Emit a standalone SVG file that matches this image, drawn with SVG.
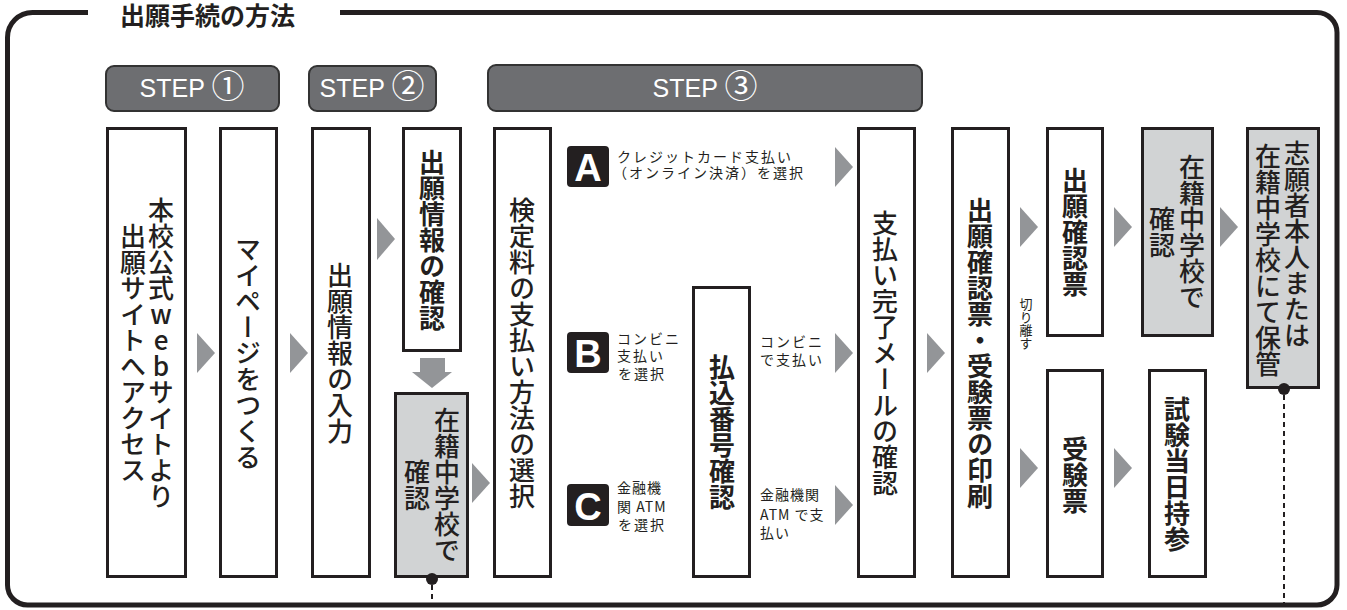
<svg xmlns="http://www.w3.org/2000/svg" width="1347" height="610" viewBox="0 0 1347 610">
<style>
.frame{fill:none;stroke:#231f20;stroke-width:5}
.box{fill:#fff;stroke:#231f20;stroke-width:3}
.gbox{fill:#d1d3d4;stroke:#231f20;stroke-width:3}
.step{fill:#6d6e71;stroke:#333;stroke-width:2}
.steptx{font-family:"Liberation Sans","Noto Sans CJK JP",sans-serif;font-size:25px;fill:#fff;text-anchor:middle}
.arr{fill:#939598}
.v{font-family:"Noto Sans CJK JP",sans-serif;font-size:26px;font-weight:500;fill:#231f20;writing-mode:vertical-rl;text-anchor:middle}
.vs{writing-mode:vertical-rl;text-anchor:start}
.b{font-weight:bold}
.sm{font-family:"Noto Sans CJK JP",sans-serif;font-size:14px;fill:#231f20;letter-spacing:2px}
.sm2{font-family:"Noto Sans CJK JP",sans-serif;font-size:14px;fill:#231f20;letter-spacing:1px}
.badge{fill:#231f20}
.bl{font-family:"Liberation Sans",sans-serif;font-weight:bold;font-size:38px;fill:#fff;text-anchor:middle}
.title{font-family:"Noto Sans CJK JP",sans-serif;font-weight:bold;font-size:25px;fill:#231f20}
.dash{stroke:#231f20;stroke-width:2;stroke-dasharray:5 4}
</style>

<g id="frame">
<path class="frame" d="M88 12.5 H32.5 A25 25 0 0 0 7.5 37.5 V585 A20 20 0 0 0 27.5 605 H1317 A20 20 0 0 0 1337 585 V32.5 A20 20 0 0 0 1317 12.5 H340"/>
<text class="title" x="120" y="25">出願手続の方法</text>
</g>

<g id="step1"><rect class="step" x="106" y="66" width="173" height="45" rx="8"/><text class="steptx" x="192" y="97">STEP <tspan font-size="33" font-family="Noto Sans CJK JP, sans-serif" dy="1">①</tspan></text></g>
<g id="step2"><rect class="step" x="309" y="66" width="127" height="45" rx="8"/><text class="steptx" x="372" y="97">STEP <tspan font-size="33" font-family="Noto Sans CJK JP, sans-serif" dy="1">②</tspan></text></g>
<g id="step3"><rect class="step" x="488" y="65" width="434" height="46" rx="8"/><text class="steptx" x="705" y="97">STEP <tspan font-size="33" font-family="Noto Sans CJK JP, sans-serif" dy="1">③</tspan></text></g>

<g id="n1"><rect class="box" x="107.5" y="128.5" width="78" height="448"/>
<text class="v" x="161" y="353" style="text-orientation:upright">本校公式webサイトより</text>
<text class="v" x="133" y="353">出願サイトへアクセス</text></g>

<g id="n2"><rect class="box" x="220.5" y="128.5" width="56" height="448"/>
<text class="v" x="248" y="353">マイページをつくる</text></g>

<g id="n3"><rect class="box" x="312.5" y="128.5" width="57" height="448"/>
<text class="v" x="340" y="353">出願情報の入力</text></g>

<g id="n4"><rect class="box" x="403.5" y="128.5" width="57" height="222"/>
<text class="v b" x="432" y="240">出願情報の確認</text></g>

<g id="n5"><rect class="gbox" x="395.5" y="393.5" width="72" height="183"/>
<text class="v" x="447" y="485">在籍中学校で</text>
<text class="v" x="417" y="485">確認</text></g>

<g id="n6"><rect class="box" x="494.5" y="128.5" width="56" height="448"/>
<text class="v" x="522" y="353">検定料の支払い方法の選択</text></g>

<g id="optA"><rect class="badge" x="567" y="146" width="42" height="41" rx="4"/><text class="bl" x="588" y="181">A</text>
<text class="sm"><tspan x="617" y="162">クレジットカード支払い</tspan><tspan x="613" y="178">（オンライン決済）を選択</tspan></text></g>

<g id="optB"><rect class="badge" x="567" y="332" width="42" height="41" rx="4"/><text class="bl" x="588" y="367">B</text>
<text class="sm"><tspan x="617" y="344">コンビニ</tspan><tspan x="617" y="361">支払い</tspan><tspan x="618" y="379">を選択</tspan></text></g>

<g id="optC"><rect class="badge" x="567" y="484" width="42" height="42" rx="4"/><text class="bl" x="588" y="520">C</text>
<text class="sm2"><tspan x="617" y="493">金融機</tspan><tspan x="617" y="512">関 ATM</tspan><tspan x="618" y="530" letter-spacing="2">を選択</tspan></text></g>

<g id="n7"><rect class="box" x="693.5" y="287.5" width="56" height="289"/>
<text class="v b" x="722" y="432">払込番号確認</text></g>

<g id="lblB2"><text class="sm"><tspan x="760" y="347">コンビニ</tspan><tspan x="760" y="365">で支払い</tspan></text></g>
<g id="lblC2"><text class="sm2"><tspan x="760" y="500">金融機関</tspan><tspan x="760" y="520">ATM で支</tspan><tspan x="760" y="538">払い</tspan></text></g>

<g id="n8"><rect class="box" x="858.5" y="128.5" width="56" height="448"/>
<text class="v" x="885" y="353">支払い完了メールの確認</text></g>

<g id="n9"><rect class="box" x="952.5" y="128.5" width="56" height="448"/>
<text class="v b" x="980" y="353">出願確認票・受験票の印刷</text></g>

<g id="cut"><text class="v" x="1026" y="324" style="font-size:13px;font-weight:normal">切り離す</text></g>

<g id="n10"><rect class="box" x="1047.5" y="128.5" width="55" height="207"/>
<text class="v b" x="1075" y="232">出願確認票</text></g>

<g id="n11"><rect class="box" x="1047.5" y="370.5" width="55" height="206"/>
<text class="v b" x="1075" y="475">受験票</text></g>

<g id="n12"><rect class="gbox" x="1142.5" y="128.5" width="70" height="207"/>
<text class="v" x="1192" y="232">在籍中学校で</text>
<text class="v" x="1162" y="232">確認</text></g>

<g id="n13"><rect class="box" x="1149.5" y="370.5" width="56" height="206"/>
<text class="v b" x="1177" y="474">試験当日持参</text></g>

<g id="n14"><rect class="gbox" x="1247.5" y="128.5" width="71" height="259"/>
<text class="v vs" x="1297" y="140">志願者本人または</text>
<text class="v vs" x="1268" y="143">在籍中学校にて保管</text></g>

<g id="connectors">
<polygon class="arr" points="197,333 215,353 197,373"/>
<polygon class="arr" points="290,333 308,353 290,373"/>
<polygon class="arr" points="377,218 395,239 377,260"/>
<polygon class="arr" points="420,358 445,358 445,372 452,372 432,388 412,372 420,372"/>
<polygon class="arr" points="472,463 490,483 472,503"/>
<polygon class="arr" points="835,147 853,167 835,187"/>
<polygon class="arr" points="835,333 853,353 835,373"/>
<polygon class="arr" points="835,485 853,505 835,525"/>
<polygon class="arr" points="927,333 945,353 927,373"/>
<polygon class="arr" points="1020,207 1038,227 1020,247"/>
<polygon class="arr" points="1020,448 1038,468 1020,488"/>
<polygon class="arr" points="1114,207 1132,227 1114,247"/>
<polygon class="arr" points="1114,448 1132,468 1114,488"/>
<polygon class="arr" points="1220,207 1238,227 1220,247"/>
<line class="dash" x1="432" y1="585" x2="432" y2="604"/>
<circle cx="432" cy="579" r="6" fill="#231f20"/>
<line class="dash" x1="1284" y1="395" x2="1284" y2="603"/>
<circle cx="1284" cy="389" r="6" fill="#231f20"/>
</g>
</svg>
